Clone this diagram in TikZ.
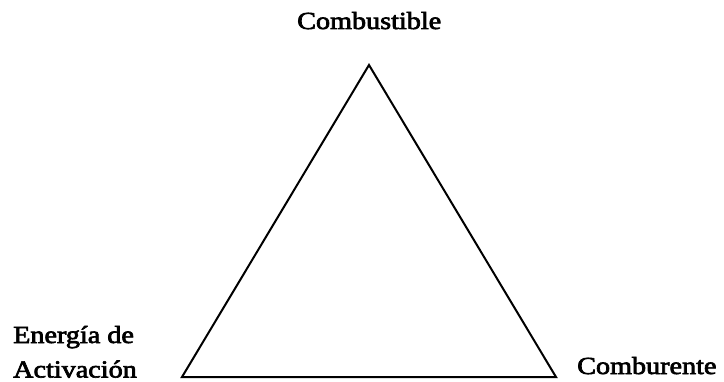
\documentclass[tikz,border=0pt]{standalone}
\usepackage{fontspec}
\setmainfont{Liberation Serif}
\newfontfamily\heavyserif{Liberation Serif}[FakeBold=2.6]
\begin{document}
\begin{tikzpicture}[x=1pt,y=1pt,
  lbl/.style={inner sep=0pt,anchor=base west,font=\heavyserif\fontsize{24.5}{29}\selectfont},
  side/.style={line width=2pt,line join=miter}]
\useasboundingbox (0,0) rectangle (724,381);
\coordinate (top) at (369,316);
\coordinate (left) at (182,4);
\coordinate (right) at (556,4);
\draw[side] (left) -- (top) -- (right) -- cycle;
\node[lbl] (comb) at (297,352) {\scalebox{1.15}[1]{Combustible}};
\node[lbl] (comu) at (577,7) {\scalebox{1.15}[1]{Comburente}};
\node[lbl] (ener) at (13,38) {\scalebox{1.15}[1]{Energía de}};
\node[lbl] (acti) at (13,3.5) {\scalebox{1.15}[1]{Activación}};
\end{tikzpicture}
\end{document}
